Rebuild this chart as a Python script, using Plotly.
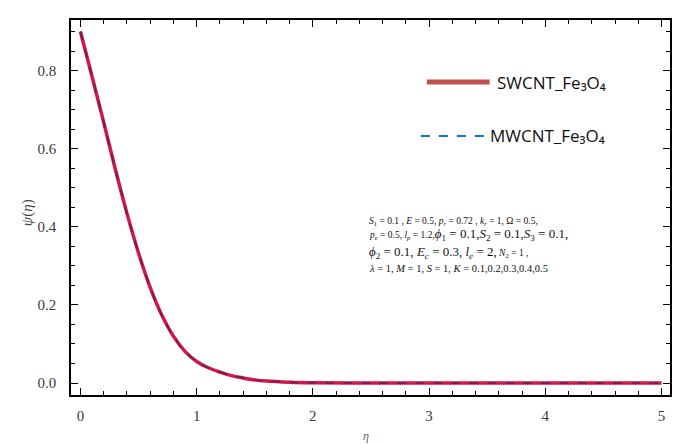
import plotly.graph_objects as go

# data
eta = [0.0, 0.1, 0.2, 0.3, 0.4, 0.5, 0.6, 0.7, 0.8, 0.9, 1.0, 1.1, 1.2, 1.3, 1.4,
       1.5, 1.6, 1.8, 2.0, 2.5, 3.0, 3.5, 4.0, 4.5, 5.0]
psi_swcnt = [0.90, 0.785, 0.668, 0.548, 0.435, 0.333, 0.245, 0.174, 0.120, 0.081, 0.055,
             0.039, 0.028, 0.019, 0.013, 0.008, 0.005, 0.002, 0.0006, 0.0, 0.0, 0.0,
             0.0, 0.0, 0.0]
psi_mwcnt = [0.90, 0.785, 0.668, 0.548, 0.435, 0.333, 0.245, 0.174, 0.120, 0.081, 0.055,
             0.039, 0.028, 0.019, 0.013, 0.008, 0.005, 0.002, 0.0006, 0.0, 0.0, 0.0,
             0.0, 0.0, 0.0]
x_ticks = [0, 1, 2, 3, 4, 5]
y_ticks = [0.0, 0.2, 0.4, 0.6, 0.8]
y_tick_text = ["0.0", "0.2", "0.4", "0.6", "0.8"]
series_names = ["SWCNT_Fe\u2083O\u2084", "MWCNT_Fe\u2083O\u2084"]

W, H = 673, 444
ml, mr, mt, mb = 71, 1, 20, 49

fig = go.Figure()
fig.add_trace(go.Scatter(x=eta, y=psi_swcnt, mode="lines", name=series_names[0],
                         line=dict(color="#d3174a", width=3.5, shape="spline", smoothing=1.0),
                         showlegend=False))
fig.add_trace(go.Scatter(x=eta, y=psi_mwcnt, mode="lines", name=series_names[1],
                         line=dict(color="#6a1e52", width=1.5, dash="dash", shape="spline",
                                   smoothing=1.0),
                         showlegend=False))

serif = "Liberation Serif, Times New Roman, serif"
tickfont = dict(family=serif, size=15, color="#3a3a3a")
common = dict(showgrid=False, zeroline=False, showline=True, linecolor="black", linewidth=1.5,
              mirror="ticks", ticks="inside", ticklen=7, tickwidth=1.3, tickcolor="black",
              tickfont=tickfont)

fig.update_xaxes(range=[-0.081, 5.073], tickvals=x_ticks, ticklabelstandoff=6,
                 minor=dict(dtick=0.2, tick0=0, ticks="inside", ticklen=4, tickcolor="black",
                            tickwidth=1),
                 **common)
fig.update_yaxes(range=[-0.0307, 0.9296], tickvals=y_ticks, ticktext=y_tick_text,
                 ticklabelstandoff=10,
                 minor=dict(dtick=0.05, tick0=0, ticks="inside", ticklen=4, tickcolor="black",
                            tickwidth=1),
                 **common)


def px(x):
    return (x - ml) / (W - ml - mr)


def py(y):
    return (H - mb - y) / (H - mt - mb)


legfont = dict(family="Open Sans, Liberation Sans, sans-serif", size=17, color="#111")
shapes = [
    dict(type="line", xref="paper", yref="paper",
         x0=px(428), x1=px(491), y0=py(82), y1=py(82),
         line=dict(color="#c0504d", width=5)),
    dict(type="line", xref="paper", yref="paper",
         x0=px(422), x1=px(486), y0=py(136), y1=py(136),
         line=dict(color="#0a74d0", width=2, dash="dash")),
]

annotations = [
    dict(text=series_names[0], x=px(496), y=py(82), xref="paper", yref="paper",
         xanchor="left", yanchor="middle", showarrow=False, font=legfont),
    dict(text=series_names[1], x=px(489), y=py(135), xref="paper", yref="paper",
         xanchor="left", yanchor="middle", showarrow=False, font=legfont),
]

small = 9.5
big = 13
lines = [
    (221, "<i>S</i><sub>1</sub> = 0.1 , <i>E</i> = 0.5, <i>p<sub>r</sub></i> = 0.72 , "
          "<i>k<sub>r</sub></i> = 1, Ω = 0.5,", small),
    (235, f"<span style='font-size:{small}px'><i>p<sub>e</sub></i> = 0.5, <i>l<sub>p</sub></i> = 1.2,</span>"
          f"<i>ϕ</i><sub>1</sub> = 0.1,<i>S</i><sub>2</sub> = 0.1,<i>S</i><sub>3</sub> = 0.1,", big),
    (252, f"<i>ϕ</i><sub>2</sub> = 0.1, <i>E<sub>c</sub></i> = 0.3, <i>l<sub>e</sub></i> = 2,"
          f"<span style='font-size:{small}px'> <i>N</i><sub>2</sub> = 1 ,</span>", big),
    (268, "<i>λ</i> = 1, <i>M</i> = 1, <i>S</i> = 1, <i>K</i> = 0.1,0.2,0.3,0.4,0.5", 10.5),
]
for y, txt, size in lines:
    annotations.append(dict(text=txt, x=px(368), y=py(y), xref="paper", yref="paper",
                            xanchor="left", yanchor="middle", showarrow=False,
                            font=dict(family=serif, size=size, color="#111")))

annotations.append(dict(text="<i>ψ</i>(<i>η</i>)", x=px(28), y=py(213), xref="paper", yref="paper",
                        textangle=-90, showarrow=False, xanchor="center", yanchor="middle",
                        font=dict(family=serif, size=15, color="#444")))
annotations.append(dict(text="<i>η</i>", x=px(367), y=py(436), xref="paper", yref="paper",
                        showarrow=False, xanchor="center", yanchor="middle",
                        font=dict(family=serif, size=12, color="#666")))

fig.update_layout(width=W, height=H, margin=dict(l=ml, r=mr, t=mt, b=mb),
                  paper_bgcolor="white", plot_bgcolor="white",
                  shapes=shapes, annotations=annotations, showlegend=False)

fig.write_html("out.html")
